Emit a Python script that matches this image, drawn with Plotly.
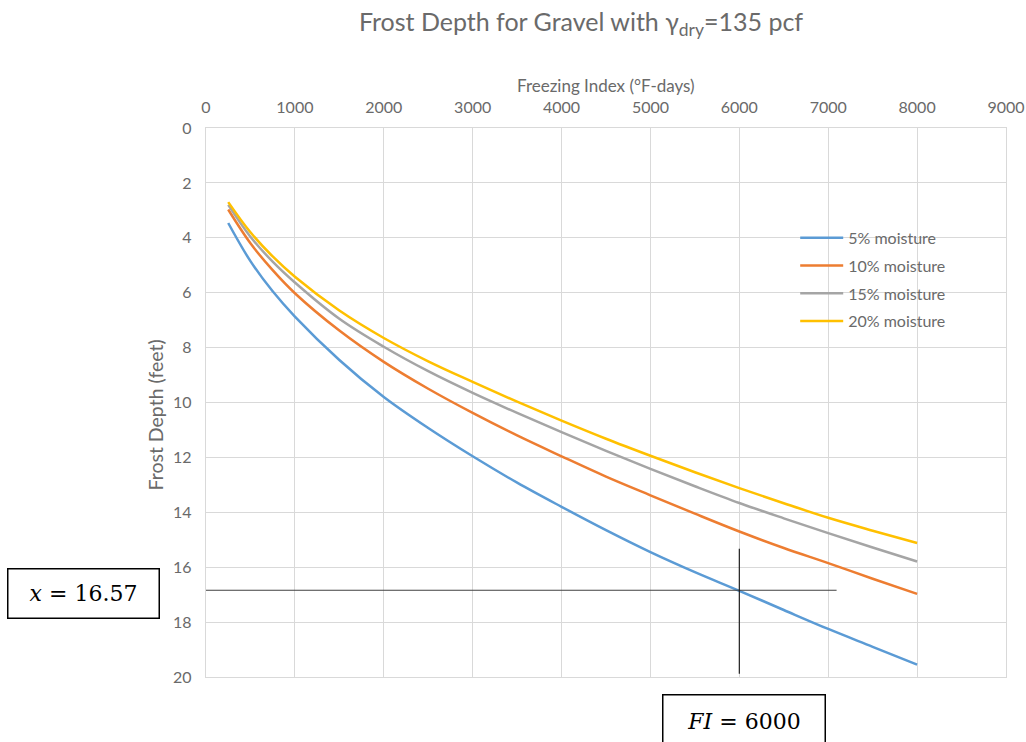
import plotly.graph_objects as go

# Data
freezing_index = [250, 500, 750, 1000, 1500, 2000, 2500, 3000, 3500, 4000,
                  4500, 5000, 5500, 6000, 6500, 7000, 7500, 8000]
depth_5 = [3.46, 4.85, 5.95, 6.87, 8.45, 9.8, 10.93, 11.96, 12.92, 13.8,
           14.65, 15.45, 16.18, 16.86, 17.56, 18.25, 18.9, 19.55]
depth_10 = [2.97, 4.2, 5.18, 6.02, 7.38, 8.52, 9.5, 10.38, 11.2, 11.96,
            12.7, 13.38, 14.05, 14.7, 15.3, 15.85, 16.42, 16.97]
depth_15 = [2.8, 3.96, 4.87, 5.63, 6.95, 7.97, 8.86, 9.65, 10.38, 11.08,
            11.76, 12.42, 13.05, 13.66, 14.22, 14.76, 15.28, 15.79]
depth_20 = [2.7, 3.8, 4.68, 5.42, 6.65, 7.65, 8.5, 9.25, 9.97, 10.66,
            11.32, 11.94, 12.54, 13.12, 13.67, 14.2, 14.67, 15.12]
series_names = ["5% moisture", "10% moisture", "15% moisture", "20% moisture"]
series_values = [depth_5, depth_10, depth_15, depth_20]
series_colors = ["#5B9BD5", "#ED7D31", "#A5A5A5", "#FFC000"]

# Crosshair reading lines
cross_h_x = [-15, 7094]
cross_h_y = [16.84, 16.84]
cross_v_x = [6000, 6000]
cross_v_y = [15.33, 19.88]
label_depth = "<i>x</i> = 16.57"
label_fi = "<i>FI</i> = 6000"

x_ticks = list(range(0, 9001, 1000))
y_ticks = list(range(0, 21, 2))

TXT = "#6a6a6a"
GRID = "#D9D9D9"
FONT = "Lato, Open Sans, sans-serif"
SERIF = "DejaVu Serif, Liberation Serif, serif"

fig = go.Figure()
for i, (name, vals, col) in enumerate(zip(series_names, series_values, series_colors)):
    fig.add_trace(go.Scatter(
        x=freezing_index, y=vals, mode="lines", name=name,
        line=dict(color=col, width=2.5, shape="spline", smoothing=1.0),
        legendgroup=f"g{i}",
    ))

fig.add_trace(go.Scatter(x=cross_h_x, y=cross_h_y, mode="lines",
                         line=dict(color="#404040", width=1.2),
                         showlegend=False, hoverinfo="skip", cliponaxis=False))
fig.add_trace(go.Scatter(x=cross_v_x, y=cross_v_y, mode="lines",
                         line=dict(color="#202020", width=1.2),
                         showlegend=False, hoverinfo="skip", cliponaxis=False))

fig.update_layout(
    width=1026, height=742,
    margin=dict(l=206, r=20, t=128, b=65, autoexpand=False),
    paper_bgcolor="white", plot_bgcolor="white",
    font=dict(family=FONT, color=TXT, size=16),
    title=dict(text="Frost Depth for Gravel with γ<sub>dry</sub>=135 pcf",
               x=581 / 1026, xanchor="center", y=1 - 22 / 742, yanchor="middle",
               font=dict(size=25, color=TXT, family=FONT)),
    showlegend=True,
    legend=dict(x=0.7365, y=0.831, xanchor="left", yanchor="top",
                bgcolor="rgba(0,0,0,0)", font=dict(size=16, color=TXT),
                tracegroupgap=4, itemwidth=43),
    xaxis=dict(side="top", range=[0, 9000], tickvals=x_ticks, automargin=False,
               showgrid=True, gridcolor=GRID, gridwidth=1.3,
               showline=True, linecolor=GRID, linewidth=1.3, mirror=True, zeroline=False,
               ticks="", ticklabelstandoff=7,
               tickfont=dict(size=16, color=TXT)),
    yaxis=dict(range=[20, 0], tickvals=y_ticks, automargin=False,
               showgrid=True, gridcolor=GRID, gridwidth=1.3,
               showline=True, linecolor=GRID, linewidth=1.3, mirror=True, zeroline=False,
               ticks="", ticklabelstandoff=10,
               tickfont=dict(size=16, color=TXT)),
)

# Axis titles
fig.add_annotation(text="Freezing Index (°F-days)", xref="paper", yref="paper",
                   x=0.5, y=1 + 42 / 549, xanchor="center", yanchor="middle",
                   showarrow=False, font=dict(size=17, color=TXT))
fig.add_annotation(text="Frost Depth (feet)", xref="paper", yref="paper",
                   x=-51 / 800, y=0.5 - 13 / 549, xanchor="center", yanchor="middle",
                   textangle=-90, showarrow=False, font=dict(size=19.5, color=TXT))

# Boxed labels
fig.add_annotation(text=label_depth, xref="paper", yref="paper",
                   x=(83.5 - 206) / 800, y=1 - (593.5 - 128) / 549,
                   xanchor="center", yanchor="middle", showarrow=False,
                   width=148, height=46, bordercolor="black", borderwidth=1.5,
                   bgcolor="white",
                   font=dict(size=22, color="black", family=SERIF))
fig.add_annotation(text=label_fi, xref="paper", yref="paper",
                   x=(744 - 206) / 800, y=1 - (721 - 128) / 549,
                   xanchor="center", yanchor="middle", showarrow=False,
                   width=159, height=49, bordercolor="black", borderwidth=1.5,
                   bgcolor="white",
                   font=dict(size=22, color="black", family=SERIF))

fig.write_html("out.html", config={"displayModeBar": False},
               post_script="document.body.style.margin='0';document.body.style.padding='0';")
